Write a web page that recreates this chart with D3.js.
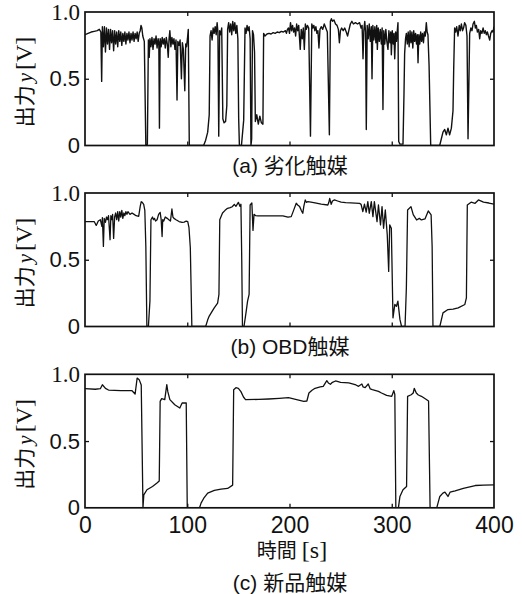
<!DOCTYPE html>
<meta charset="utf-8">
<style>
body { margin: 0; background: #fff; }
</style>
<body>
<script src="https://d3js.org/d3.v7.min.js"></script>
<script>

// output y [V] against time [s] as [t, v]
var degraded = [
  [0,0.83],[3,0.84],[6,0.85],[9,0.855],[12,0.86],[14,0.87],[15.5,0.85],[16.3,0.48],[17,0.89],
  [18,0.74],[19,0.89],[20,0.70],[21,0.88],[22,0.76],[23,0.87],[24,0.72],[25,0.87],[26,0.77],[27,0.86],
  [28,0.71],[29,0.86],[30,0.76],[31,0.85],[32,0.74],[33,0.86],[34,0.78],[35,0.85],[36,0.75],[37,0.84],
  [38,0.78],[39,0.85],[40,0.76],[41,0.84],[42,0.79],[43,0.85],[44,0.77],[45,0.84],[46,0.79],[47,0.85],
  [48,0.78],[49,0.84],[50,0.80],[51,0.85],[52,0.78],[53,0.84],[54,0.86],[54.8,0.90],[55.6,0.88],[56.5,0.82],
  [58,0.78],[59.5,0],[61,0.01],[62,0.79],
  [62.8,0.66],[63.5,0.80],[64.5,0.74],[65.5,0.81],[66.5,0.72],[67.5,0.80],[68.5,0.76],[69.5,0.82],[70.5,0.73],
  [71.5,0.80],[72.2,0.77],[72.8,0.13],[73.5,0.80],[74.5,0.74],[75.5,0.81],[76.5,0.76],[77.5,0.80],[78.5,0.73],
  [79.5,0.81],[80.5,0.76],[81.4,0.66],[82.2,0.80],[83,0.86],[84,0.74],[85,0.81],[86,0.76],[87,0.80],[88,0.72],
  [89,0.79],[90,0.34],[90.8,0.78],[92,0.75],[93,0.79],[94.3,0.50],[95.2,0.77],[96.2,0.72],[97.6,0.41],[98.5,0.76],
  [99.3,0.74],[100.2,0.80],[101,0.87],[102,0],
  [116,0],[118,0.04],[120,0.10],[121.5,0.23],[122.3,0.82],[123.3,0.86],[124.3,0.79],[125.3,0.88],[126.3,0.84],
  [127.3,0.89],[128.3,0.83],[129.2,0.92],[130,0.85],[130.8,0.07],[131.7,0.86],[132.7,0.83],[133.7,0.88],[134.8,0.20],
  [136,0.17],[137.5,0.18],[138.7,0.30],[139.5,0.87],[140.5,0.92],[141.5,0.85],[142.5,0.91],[143.5,0.83],[144.5,0.93],
  [145.5,0.86],[146.5,0.92],[147.5,0.84],[148.5,0.90],[149.5,0.80],[150.3,0.20],[151,0],[153,0],[155.2,0.19],
  [156.5,0.88],[157.5,0.84],[158.5,0.90],[159.5,0.86],[160.5,0.89],[161.5,0.80],[162.3,0],[163,0.05],[163.8,0.86],
  [164.8,0.83],[165.8,0.70],[166.6,0.18],[168,0.23],[169.5,0.16],[171,0.22],[172.5,0.17],[174,0.16],[174.7,0.84],
  [176,0.82],[178,0.835],[180,0.84],[182,0.835],[184,0.845],[186,0.84],[188,0.85],[190,0.845],[192,0.855],
  [194,0.85],[196,0.86],[197,0.84],[198,0.87],
  [199,0.88],[200,0.84],[201,0.92],[202,0.86],[203,0.90],[204,0.85],[205,0.88],[206,0.82],[207,0.91],[208,0.86],
  [209,0.90],[210.5,0.72],[211.5,0.87],[212.5,0.80],[213.5,0.88],[214.5,0.72],[215.5,0.91],[216.5,0.87],[217.5,0.90],
  [218.8,0.88],[220.5,0.07],[221.8,0.91],[222.8,0.88],[223.8,0.90],[224.8,0.86],[225.8,0.89],[226.8,0.84],[227.8,0.86],
  [228.8,0.73],[229.8,0.87],[231,0.89],[232.5,0.87],[234,0.91],[235.5,0.88],[237,0.85],[239,0.08],[240,0.93],
  [241,0.95],[242,0.93],[243.5,0.94],[245,0.91],[246.5,0.90],[247.8,0.87],[248.8,0.77],[249.8,0.86],[251,0.88],
  [252.5,0.86],[254,0.88],[255.5,0.85],[256.8,0.82],[258,0.86],[259.5,0.91],[261,0.93],[262.5,0.91],[264.5,0.92],
  [266.5,0.91],[268.5,0.92],[270,0.88],[271,0.90],[271.9,0.65],[272.7,0.86],[273.6,0.93],[274.4,0.85],[275.1,0.12],
  [276,0.90],
  [277,0.80],[278,0.91],[279,0.78],[280,0.89],[280.7,0.50],[281.5,0.90],[282.5,0.79],[283.5,0.89],[284.5,0.77],
  [285.3,0.90],[285.9,0.72],[286.8,0.88],[287.8,0.78],[288.8,0.87],[289.8,0.76],[290.6,0.88],[291.4,0.27],[292.2,0.86],
  [293.2,0.76],[294.2,0.87],[295.2,0.78],[296.3,0.72],[297.2,0.86],[298.2,0.77],[299,0.85],[299.6,0.68],[300.5,0.86],
  [301.5,0.76],[302.2,0.84],[302.9,0.65],[303.8,0.85],[304.6,0.78],[305.4,0.86],[306.1,0.92],[306.8,0.03],[308,0.01],
  [311,0.01],[312,0.40],[312.6,0.69],[313.5,0.80],
  [314.3,0.84],[315.2,0.76],[316.1,0.85],[317,0.74],[317.9,0.86],[318.8,0.77],[319.7,0.85],[320.6,0.73],[321.5,0.86],
  [322.4,0.78],[323.3,0.84],[324.2,0.76],[325,0.83],[325.7,0.62],[326.5,0.83],[327.4,0.76],[328.3,0.85],[329.2,0.78],
  [330.1,0.84],[331,0.77],[331.9,0.85],[332.8,0.82],[333.8,0.92],[334.6,0.85],[335.4,0.83],[336.5,0.60],[338.1,0],
  [346.9,0],[350.1,0.10],[351.8,0.12],[353.4,0.08],[355,0.13],[356.6,0.08],[358.3,0.13],[359.9,0.26],[360.6,0.58],
  [361.5,0.88],[362.5,0.85],[363.5,0.89],[364.8,0.82],[366,0.90],[367,0.86],[368.1,0.91],[369.2,0.86],[370.2,0.88],
  [371.3,0.92],[372.5,0.90],[373.6,0.82],[374.6,0.05],[376.2,0.84],[377.4,0.88],[378.5,0.86],[379.5,0.91],[380.8,0.93],
  [381.8,0.88],[382.7,0.90],[383.8,0.85],[385,0.87],[386,0.80],[387,0.86],[388.2,0.84],[389.3,0.88],[390.5,0.84],
  [391.5,0.86],[392.5,0.83],[393.5,0.85],[394.6,0.82],[395.8,0.79],[396.8,0.84],[398,0.86],[399,0.85],[400,0.89]
];

var obd = [
  [0,0.786],[9,0.786],[11,0.757],[13,0.79],[15,0.80],[16.5,0.75],[17,0.816],[18,0.60],[18.8,0.81],[20,0.78],
  [21,0.82],[22,0.80],[23,0.83],[24.5,0.65],[25.3,0.83],[26.4,0.80],[27,0.84],[28,0.66],[29,0.82],[30,0.85],
  [31,0.80],[32,0.86],[33,0.79],[34,0.86],[35,0.82],[36,0.87],[37,0.81],[38,0.85],[39,0.83],[40,0.86],
  [41,0.84],[42,0.86],[44,0.84],[46,0.85],[48,0.84],[50,0.83],[52.5,0.825],[54,0.90],[55,0.935],[56,0.93],
  [57.4,0.915],[58.5,0.87],[59.5,0.60],[60.5,0],[62,0],[63.5,0.19],[64.5,0.80],[66,0.82],[67,0.80],[68,0.81],
  [69,0.79],[70.5,0.80],[72,0.84],[73.5,0.855],[74.5,0.80],[75.4,0.674],[76,0.80],[77,0.79],[78.5,0.82],
  [80.4,0.81],[82,0.80],[83.6,0.79],[85,0.88],[86,0.82],[87,0.81],[89,0.80],[92,0.786],[95,0.78],[97,0.782],
  [99,0.79],[100.5,0.786],[101.7,0.74],[103,0.59],[104.5,0],[118,0],[120,0.05],[121.5,0.078],[124,0.11],
  [126.4,0.14],[129.7,0.175],[131,0.24],[131.8,0.80],[134.5,0.85],[137,0.87],[139.4,0.885],[142,0.89],
  [144,0.897],[146,0.915],[147.6,0.90],[150,0.93],[151.5,0.90],[152.5,0.916],[153.3,0.5],[154,0],[155.5,0],
  [157.4,0.10],[159,0.19],[160.5,0.24],[161.5,0.91],[163.2,0.925],[164.3,0.72],[165.3,0.84],[167,0.83],
  [169,0.828],[180,0.828],[193.5,0.828],[198.5,0.82],
  [201.7,0.823],[204,0.87],[206.6,0.923],[208,0.91],[209.9,0.898],[211.5,0.87],[213,0.848],[214,0.90],
  [215.4,0.948],[216.5,0.93],[218,0.935],[221,0.931],[225,0.926],[231,0.916],[237.5,0.91],[238.5,0.93],
  [239.3,0.96],[240.8,0.916],[242,0.94],[244,0.948],[247,0.94],[250.5,0.931],[255,0.928],[260,0.926],
  [268.4,0.923],[270,0.915],[271.7,0.861],[273.3,0.916],[275,0.856],[276.6,0.935],[278,0.848],[280,0.935],
  [281.6,0.823],[283,0.935],[285.6,0.786],[287,0.91],[289,0.761],[290.5,0.898],[292,0.736],[293.7,0.873],
  [295.6,0.687],[297,0.413],[298,0.761],[299.6,0.736],[301.2,0.065],[303,0.165],[304.6,0.152],[306,0.19],
  [308,0.053],[309.6,0],[313,0],[314.3,0.29],[315.5,0.873],[318.8,0.898],[321,0.838],[324.3,0.798],
  [327,0.81],[329,0.798],[332.5,0.806],[335.7,0.866],[338.5,0.836],[339.5,0.60],[340.3,0],[347,0],
  [350.1,0.102],[355,0.127],[360,0.13],[365,0.14],[371.5,0.165],[373,0.214],[373.9,0.91],[377.6,0.931],
  [381.5,0.923],[384.8,0.948],[389.7,0.931],[395,0.925],[400,0.916]
];

var fresh = [
  [0,0.892],[10,0.888],[15,0.892],[17,0.922],[20,0.895],[23,0.882],[35,0.878],[46,0.877],[49,0.852],
  [51,0.972],[53,0.96],[55,0.92],[56.7,0],[57.5,0.097],[60.6,0.135],[66,0.16],[70.4,0.185],[72.6,0.2],
  [73.5,0.797],[75,0.818],[78,0.81],[80,0.922],[81,0.87],[83,0.81],[87.8,0.772],[92.7,0.747],[95,0.785],
  [99,0.785],[100,0],[112,0],[113.5,0.035],[116,0.07],[120,0.11],[126.5,0.13],[133,0.14],[139.5,0.145],
  [144.4,0.17],[145.4,0.885],[147.6,0.9],[150,0.895],[152.5,0.87],[155,0.83],[157,0.81],[170,0.812],
  [179.6,0.815],[190,0.82],[199,0.825],[206,0.813],[210,0.805],[214,0.797],[217,0.8],[219,0.86],[222,0.88],
  [225,0.895],[230,0.905],[233,0.91],[236.5,0.952],[238,0.935],[240,0.925],[242,0.94],[245,0.95],[250,0.94],
  [258,0.935],[265,0.92],[267.5,0.91],[270.8,0.927],[272,0.905],[274,0.9],[277,0.927],[279,0.89],[281,0.885],
  [287,0.872],[290,0.86],[295,0.842],[300,0.835],[302,0.877],[303,0.85],[304,0],[306.5,0],[308,0.085],
  [311,0.135],[314.5,0.16],[315.5,0.835],[319,0.847],[321,0.86],[322,0.895],[324,0.86],[326,0.845],
  [329,0.835],[332,0.82],[336,0.8],[337.5,0],[344,0],[347,0.085],[350,0.11],[352,0.117],[355,0.085],
  [357,0.117],[362,0.127],[370,0.145],[381.6,0.167],[390,0.17],[400,0.172]
];

var captions = ["(a) 劣化触媒", "(b) OBD触媒", "(c) 新品触媒"];
var xTicks = [0, 100, 200, 300, 400];
var yTicks = [0, 0.5, 1.0];
var yTickLabels = ["0", "0.5", "1.0"];

var width = 522,
    height = 594,
    left = 85,
    right = 494,
    plotH = 133.5,
    tops = [12, 193, 374.3];

var sans = "'Liberation Sans', 'Noto Sans CJK JP', sans-serif",
    serif = "'Liberation Serif', serif";

var svg = d3.select("body").append("svg")
    .attr("width", width)
    .attr("height", height);

var x = d3.scaleLinear().domain([0, 400]).range([left, right]);

[degraded, obd, fresh].forEach(function(data, i) {
  var top = tops[i],
      bottom = top + plotH,
      last = i == 2;
  var y = d3.scaleLinear().domain([0, 1]).range([bottom, top]);

  svg.append("clipPath").attr("id", "clip" + i)
    .append("rect")
    .attr("x", left).attr("y", top)
    .attr("width", right - left).attr("height", plotH);

  var line = d3.line()
      .x(function(d) { return x(d[0]); })
      .y(function(d) { return y(d[1]); });

  svg.append("path")
    .datum(data)
    .attr("clip-path", "url(#clip" + i + ")")
    .attr("fill", "none")
    .attr("stroke", "#111")
    .attr("stroke-width", i == 0 ? 1.4 : 1.3)
    .attr("stroke-linejoin", "round")
    .attr("d", line);

  // inward ticks on all four sides
  var ax = [
    svg.append("g").attr("transform", "translate(0," + bottom + ")")
      .call(d3.axisBottom(x).tickValues(last ? xTicks : [100, 200, 300]).tickSize(-4).tickPadding(9)
        .tickFormat(last ? d3.format("d") : "")),
    svg.append("g").attr("transform", "translate(0," + top + ")")
      .call(d3.axisTop(x).tickValues([100, 200, 300]).tickSize(-4).tickFormat("")),
    svg.append("g").attr("transform", "translate(" + left + ",0)")
      .call(d3.axisLeft(y).tickValues(yTicks).tickSize(-4).tickPadding(5)
        .tickFormat(function(d, j) { return yTickLabels[j]; })),
    svg.append("g").attr("transform", "translate(" + right + ",0)")
      .call(d3.axisRight(y).tickValues([0.5]).tickSize(-4).tickFormat(""))
  ];
  ax.forEach(function(g) {
    g.select(".domain").remove();
    g.selectAll("line").attr("stroke", "#111").attr("stroke-width", 1.3);
    g.selectAll("text").attr("fill", "#111").style("font-family", sans).style("font-size", "22px");
  });
  ax[0].selectAll(".tick").filter(function(d) { return d == 0 || d == 400; }).select("line").remove();
  ax[2].selectAll(".tick").filter(function(d) { return d != 0.5; }).select("line").remove();
  ax[2].selectAll("text").filter(function(d) { return d == 1; })
    .style("font-family", serif).style("font-size", "23px");
  if (last) ax[0].selectAll("text").style("font-size", "23px");

  svg.append("rect")
    .attr("x", left).attr("y", top)
    .attr("width", right - left).attr("height", plotH)
    .attr("fill", "none")
    .attr("stroke", "#111")
    .attr("stroke-width", 1.7);

  var yl = svg.append("text")
    .attr("transform", "translate(32," + (top + 70) + ") rotate(-90)")
    .attr("text-anchor", "middle")
    .attr("fill", "#111")
    .style("font-family", sans)
    .style("font-size", "21px");
  yl.append("tspan").text("出力");
  yl.append("tspan").style("font-family", serif).style("font-style", "italic").style("font-size", "21px").attr("dx", 3).text("y");
  yl.append("tspan").style("font-family", serif).style("font-size", "24px").attr("dx", 3).text("[V]");

  svg.append("text")
    .attr("x", 290)
    .attr("y", last ? 590 : bottom + 27)
    .attr("text-anchor", "middle")
    .attr("fill", "#111")
    .style("font-family", sans)
    .style("font-size", "21px")
    .text(captions[i]);

  if (last) {
    var xl = svg.append("text")
      .attr("x", 292).attr("y", 558)
      .attr("text-anchor", "middle")
      .attr("fill", "#111")
      .style("font-family", sans)
      .style("font-size", "20px");
    xl.append("tspan").text("時間");
    xl.append("tspan").style("font-family", serif).style("font-size", "24px").attr("dx", 5).text("[s]");
  }
});

</script>
